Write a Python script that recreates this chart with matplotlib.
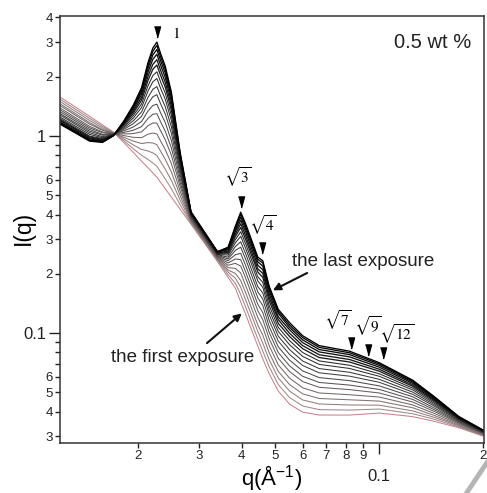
import numpy as np
import matplotlib
matplotlib.use('Agg')
import matplotlib.pyplot as plt
from matplotlib.ticker import FixedLocator, FuncFormatter
from matplotlib.lines import Line2D

plt.rcParams['font.family'] = ['Liberation Sans', 'DejaVu Sans']
plt.rcParams['mathtext.fontset'] = 'custom'
plt.rcParams['mathtext.rm'] = 'Liberation Sans'
plt.rcParams['mathtext.it'] = 'Liberation Sans:italic'

# q values (1/A) shared by all exposures
q = [0.0119, 0.0145, 0.0158, 0.0170, 0.0182, 0.0194, 0.0205, 0.0214, 0.0221, 0.0227,
     0.0233, 0.0240, 0.0250, 0.0265, 0.0285, 0.0340, 0.0365, 0.0383, 0.0397, 0.0410,
     0.0445, 0.0460, 0.0480, 0.0510, 0.0550, 0.0600, 0.0670, 0.0820, 0.1000, 0.1250,
     0.1450, 0.1700, 0.2000]

# I(q) of each exposure, first to last
i_01 = [1.58, 1.26, 1.14, 1.047, 0.929, 0.826, 0.746, 0.690, 0.650, 0.619, 0.581, 0.541, 0.490, 0.426, 0.357, 0.231, 0.192, 0.169, 0.144, 0.125, 0.0859, 0.0740, 0.0622, 0.0508, 0.0436, 0.0397, 0.0384, 0.0384, 0.0393, 0.0377, 0.0356, 0.0331, 0.0300]
i_02 = [1.54, 1.23, 1.12, 1.043, 0.948, 0.863, 0.799, 0.761, 0.731, 0.703, 0.656, 0.607, 0.541, 0.449, 0.361, 0.233, 0.198, 0.179, 0.157, 0.136, 0.0934, 0.0811, 0.0675, 0.0548, 0.0471, 0.0427, 0.0409, 0.0407, 0.0412, 0.0390, 0.0365, 0.0334, 0.0302]
i_03 = [1.50, 1.20, 1.10, 1.040, 0.967, 0.902, 0.856, 0.840, 0.822, 0.797, 0.739, 0.680, 0.597, 0.474, 0.366, 0.236, 0.204, 0.190, 0.171, 0.148, 0.102, 0.0889, 0.0733, 0.0592, 0.0508, 0.0458, 0.0437, 0.0432, 0.0431, 0.0403, 0.0373, 0.0338, 0.0303]
i_04 = [1.46, 1.17, 1.08, 1.036, 0.986, 0.943, 0.917, 0.927, 0.923, 0.905, 0.834, 0.763, 0.658, 0.500, 0.370, 0.238, 0.209, 0.201, 0.185, 0.161, 0.110, 0.0975, 0.0795, 0.0639, 0.0548, 0.0492, 0.0466, 0.0459, 0.0452, 0.0418, 0.0381, 0.0341, 0.0305]
i_05 = [1.43, 1.15, 1.07, 1.033, 1.006, 0.986, 0.982, 1.023, 1.037, 1.026, 0.940, 0.855, 0.726, 0.527, 0.374, 0.240, 0.215, 0.213, 0.202, 0.175, 0.120, 0.107, 0.0864, 0.0690, 0.0591, 0.0528, 0.0497, 0.0487, 0.0474, 0.0432, 0.0390, 0.0345, 0.0307]
i_06 = [1.39, 1.12, 1.05, 1.030, 1.026, 1.030, 1.051, 1.129, 1.166, 1.164, 1.060, 0.959, 0.801, 0.556, 0.378, 0.242, 0.221, 0.226, 0.219, 0.191, 0.130, 0.117, 0.0937, 0.0745, 0.0638, 0.0568, 0.0531, 0.0517, 0.0497, 0.0447, 0.0399, 0.0349, 0.0309]
i_07 = [1.36, 1.10, 1.04, 1.027, 1.044, 1.071, 1.117, 1.230, 1.291, 1.300, 1.177, 1.060, 0.873, 0.583, 0.382, 0.244, 0.227, 0.238, 0.236, 0.205, 0.140, 0.127, 0.101, 0.0797, 0.0682, 0.0604, 0.0562, 0.0545, 0.0518, 0.0461, 0.0407, 0.0352, 0.0310]
i_08 = [1.33, 1.08, 1.02, 1.024, 1.063, 1.113, 1.186, 1.341, 1.430, 1.452, 1.307, 1.172, 0.951, 0.611, 0.386, 0.246, 0.233, 0.250, 0.254, 0.221, 0.151, 0.138, 0.108, 0.0852, 0.0729, 0.0643, 0.0595, 0.0574, 0.0540, 0.0475, 0.0415, 0.0355, 0.0312]
i_09 = [1.30, 1.06, 1.01, 1.021, 1.081, 1.157, 1.259, 1.462, 1.584, 1.622, 1.452, 1.296, 1.036, 0.640, 0.390, 0.248, 0.238, 0.263, 0.273, 0.238, 0.162, 0.149, 0.116, 0.0911, 0.0779, 0.0685, 0.0629, 0.0605, 0.0563, 0.0489, 0.0424, 0.0358, 0.0313]
i_10 = [1.28, 1.04, 0.993, 1.018, 1.098, 1.196, 1.326, 1.574, 1.729, 1.783, 1.589, 1.412, 1.116, 0.666, 0.393, 0.250, 0.243, 0.275, 0.291, 0.254, 0.172, 0.160, 0.124, 0.0965, 0.0825, 0.0722, 0.0661, 0.0633, 0.0583, 0.0502, 0.0431, 0.0361, 0.0314]
i_11 = [1.25, 1.02, 0.981, 1.016, 1.114, 1.236, 1.396, 1.695, 1.887, 1.960, 1.739, 1.539, 1.201, 0.693, 0.397, 0.251, 0.249, 0.287, 0.310, 0.270, 0.184, 0.171, 0.131, 0.102, 0.0873, 0.0762, 0.0694, 0.0662, 0.0604, 0.0515, 0.0438, 0.0364, 0.0316]
i_12 = [1.23, 1.00, 0.971, 1.014, 1.128, 1.271, 1.457, 1.803, 2.029, 2.121, 1.874, 1.654, 1.277, 0.716, 0.400, 0.253, 0.253, 0.298, 0.327, 0.285, 0.193, 0.181, 0.138, 0.107, 0.0916, 0.0797, 0.0723, 0.0687, 0.0622, 0.0526, 0.0445, 0.0366, 0.0317]
i_13 = [1.21, 0.990, 0.962, 1.012, 1.142, 1.307, 1.522, 1.918, 2.183, 2.295, 2.021, 1.776, 1.358, 0.741, 0.403, 0.254, 0.257, 0.309, 0.344, 0.300, 0.204, 0.192, 0.146, 0.112, 0.0961, 0.0834, 0.0752, 0.0714, 0.0641, 0.0537, 0.0451, 0.0369, 0.0318]
i_14 = [1.20, 0.979, 0.954, 1.010, 1.153, 1.336, 1.575, 2.015, 2.313, 2.444, 2.146, 1.881, 1.426, 0.761, 0.405, 0.255, 0.261, 0.318, 0.359, 0.313, 0.212, 0.201, 0.152, 0.117, 0.0998, 0.0864, 0.0777, 0.0735, 0.0656, 0.0546, 0.0456, 0.0371, 0.0319]
i_15 = [1.18, 0.968, 0.946, 1.008, 1.165, 1.366, 1.630, 2.116, 2.454, 2.603, 2.278, 1.993, 1.497, 0.781, 0.407, 0.257, 0.265, 0.327, 0.374, 0.327, 0.221, 0.210, 0.158, 0.121, 0.104, 0.0895, 0.0803, 0.0758, 0.0672, 0.0556, 0.0461, 0.0372, 0.0320]
i_16 = [1.17, 0.958, 0.940, 1.007, 1.176, 1.393, 1.680, 2.209, 2.582, 2.751, 2.401, 2.095, 1.564, 0.800, 0.409, 0.258, 0.268, 0.336, 0.388, 0.339, 0.230, 0.219, 0.164, 0.126, 0.107, 0.0924, 0.0826, 0.0778, 0.0686, 0.0564, 0.0466, 0.0374, 0.0320]
i_17 = [1.16, 0.950, 0.934, 1.006, 1.184, 1.416, 1.724, 2.292, 2.697, 2.885, 2.512, 2.187, 1.623, 0.816, 0.411, 0.259, 0.271, 0.343, 0.401, 0.350, 0.237, 0.227, 0.169, 0.129, 0.110, 0.0949, 0.0847, 0.0795, 0.0698, 0.0571, 0.0470, 0.0376, 0.0321]
i_18 = [1.15, 0.943, 0.929, 1.005, 1.191, 1.436, 1.761, 2.364, 2.798, 3.000, 2.608, 2.267, 1.673, 0.830, 0.413, 0.259, 0.273, 0.349, 0.411, 0.360, 0.243, 0.233, 0.173, 0.132, 0.113, 0.0970, 0.0864, 0.0810, 0.0708, 0.0577, 0.0473, 0.0377, 0.0322]

exposures = [i_01, i_02, i_03, i_04, i_05, i_06, i_07, i_08, i_09,
             i_10, i_11, i_12, i_13, i_14, i_15, i_16, i_17, i_18]

# Bragg peak markers
peak_labels = [r'$1$', r'$\sqrt{3}$', r'$\sqrt{4}$', r'$\sqrt{7}$', r'$\sqrt{9}$', r'$\sqrt{12}$']
peak_q = [0.0227, 0.0399, 0.0457, 0.0827, 0.0925, 0.1026]
peak_mark = [3.37, 0.462, 0.270, 0.0890, 0.0820, 0.0792]
label_offsets = [(14, -1), (-2.5, 18), (1, 16.5), (-9.5, 16.5), (0.5, 17.5), (10, 14)]

fig = plt.figure(figsize=(4.87, 4.93), dpi=100)
ax = fig.add_axes([60 / 487, 50 / 493, 424 / 487, 427 / 493])

n = len(exposures)
for k, iq in enumerate(exposures):
    t = k / (n - 1)
    g = 0.58 * (1 - t) ** 1.3
    if k == 0:
        col = (0.80, 0.50, 0.55)
    else:
        col = (min(1, g + 0.12 * (1 - t) ** 4), g, g)
    lw = 0.75 if k < 12 else 0.95
    ax.plot(q, iq, color=col, lw=lw)

ax.set_xscale('log')
ax.set_yscale('log')
ax.set_xlim(0.0119, 0.201)
ax.set_ylim(0.0277, 4.07)

# ticks
ax.xaxis.set_major_locator(FixedLocator([0.1]))
ax.xaxis.set_minor_locator(FixedLocator([0.02, 0.03, 0.04, 0.05, 0.06, 0.07, 0.08, 0.09, 0.2]))
ax.yaxis.set_major_locator(FixedLocator([0.1, 1]))
ax.yaxis.set_minor_locator(FixedLocator([0.03, 0.04, 0.05, 0.06, 0.07, 0.08, 0.09,
                                         0.2, 0.3, 0.4, 0.5, 0.6, 0.7, 0.8, 0.9, 2, 3, 4]))


def lead_digit(v):
    return int(round(v / 10 ** np.floor(np.log10(v) + 1e-9)))


ax.xaxis.set_major_formatter(FuncFormatter(lambda v, p: '0.1'))
ax.xaxis.set_minor_formatter(FuncFormatter(lambda v, p: str(lead_digit(v))))
ax.yaxis.set_major_formatter(FuncFormatter(lambda v, p: '0.1' if v < 0.5 else '1'))
ax.yaxis.set_minor_formatter(FuncFormatter(lambda v, p: str(lead_digit(v)) if lead_digit(v) <= 6 else ''))

ax.tick_params(which='major', length=8, width=1, pad=2, labelsize=12, colors='#222222')
ax.tick_params(which='minor', length=3.5, width=1, pad=1.5, labelsize=9.5, colors='#222222')
ax.tick_params(axis='x', which='major', pad=11)
for s in ax.spines.values():
    s.set_linewidth(1.1)
    s.set_color('#333333')

ax.set_xlabel('q(Å$^{-1}$)', fontsize=16)
ax.xaxis.set_label_coords(0.5, -0.047)
ax.set_ylabel('I(q)', fontsize=16.5)
ax.yaxis.set_label_coords(-0.059, 0.503)

# peak markers and labels
ax.plot(peak_q, peak_mark, linestyle='none', color='black',
        marker=[(-0.55, 1), (0.55, 1), (0, -1)], markersize=8)
for lab, xq, yi, off in zip(peak_labels, peak_q, peak_mark, label_offsets):
    ax.annotate(lab, (xq, yi), xytext=off, textcoords='offset points',
                ha='center', va='center', fontsize=11, math_fontfamily='stix')

# exposure arrows
arrow = dict(arrowstyle='-|>', color='#111111', lw=1.5, mutation_scale=11,
             shrinkA=0, shrinkB=0)
ax.annotate('', xy=(0.0492, 0.165), xytext=(0.0618, 0.202), arrowprops=arrow)
ax.annotate('', xy=(0.0400, 0.126), xytext=(0.0317, 0.089), arrowprops=arrow)
ax.text(0.715, 0.424, 'the last exposure', transform=ax.transAxes,
        ha='center', va='center', fontsize=13.5, color='#222222')
ax.text(0.289, 0.201, 'the first exposure', transform=ax.transAxes,
        ha='center', va='center', fontsize=13.5, color='#222222')
ax.text(0.880, 0.937, '0.5 wt %', transform=ax.transAxes,
        ha='center', va='center', fontsize=14.5, color='#222222')

# grey stroke at the lower right corner of the original figure
fig.add_artist(Line2D([0.958, 1.0], [0.0, 0.062], transform=fig.transFigure,
                      color='#b5b5b5', lw=3.5))

fig.savefig('out.png', dpi=100)
